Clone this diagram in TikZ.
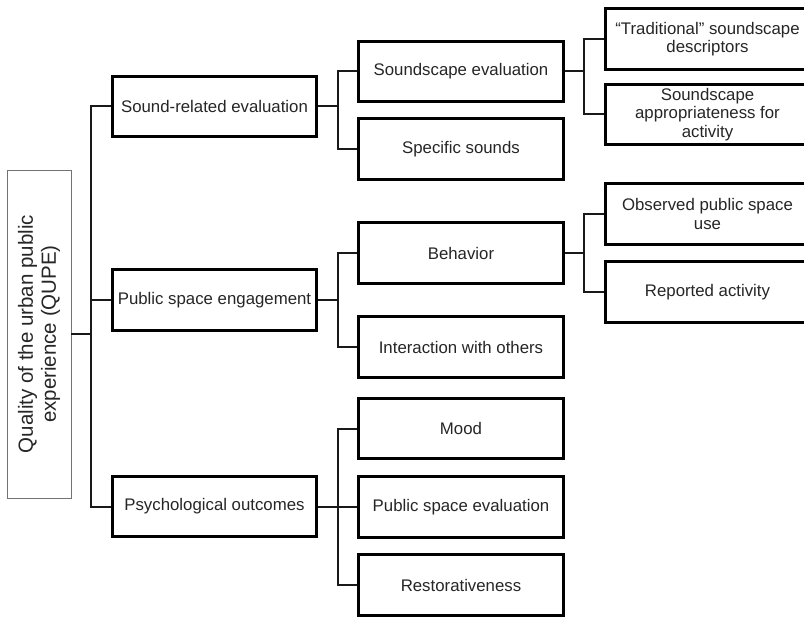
\documentclass[tikz,border=0pt]{standalone}
\usepackage{fontspec}
\setmainfont{Liberation Sans}
\usetikzlibrary{shadows}
\begin{document}
\begin{tikzpicture}[x=1pt,y=-1pt,
  box/.style={draw=black, line width=2.6pt, fill=white, minimum width=204.5pt, minimum height=60.5pt,
    align=center, inner sep=0pt, text=black!85,
    font=\fontsize{16.8}{18.2}\selectfont,
    drop shadow={opacity=0.25, shadow xshift=1.2pt, shadow yshift=-1.2pt}},
  rootbox/.style={draw=black!55, line width=0.7pt, fill=white, rotate=90, minimum width=328pt, minimum height=64pt,
    align=center, inner sep=0pt, text=black!85, font=\fontsize{20.5}{23}\selectfont},
  conn/.style={draw=black!90, line width=2pt}]
\useasboundingbox (0,0) rectangle (804,618);

% root
\node[rootbox] (root) at (39,334) {Quality of the urban public\\experience (QUPE)};

% level 1
\node[box] (sre) at (214.5,106.5) {Sound-related evaluation};
\node[box] (pse) at (214.5,300) {Public space engagement};
\node[box] (pso) at (214.5,506.5) {Psychological outcomes};

% level 2
\node[box] (sev) at (461,71.5) {Soundscape evaluation};
\node[box] (ssn) at (461,149) {Specific sounds};
\node[box] (beh) at (461,253) {Behavior};
\node[box] (iwo) at (461,347) {Interaction with others};
\node[box] (moo) at (461,428.5) {Mood};
\node[box] (pev) at (461,507) {Public space evaluation};
\node[box] (res) at (461,585) {Restorativeness};

% level 3
\node[box] (tsd) at (707.5,39) {“Traditional” soundscape\\descriptors};
\node[box] (sap) at (707.5,114.5) {Soundscape\\appropriateness for\\activity};
\node[box] (ops) at (707.5,214) {Observed public space\\use};
\node[box] (rac) at (707.5,292) {Reported activity};

% connectors
\foreach \c in {sre,pse,pso}
  \draw[conn] (root.south) -- ++(20,0) |- (\c.west);
\foreach \c in {sev,ssn}
  \draw[conn] (sre.east) -- ++(20,0) |- (\c.west);
\foreach \c in {beh,iwo}
  \draw[conn] (pse.east) -- ++(20,0) |- (\c.west);
\foreach \c in {moo,pev,res}
  \draw[conn] (pso.east) -- ++(20,0) |- (\c.west);
\foreach \c in {tsd,sap}
  \draw[conn] (sev.east) -- ++(19,0) |- (\c.west);
\foreach \c in {ops,rac}
  \draw[conn] (beh.east) -- ++(19,0) |- (\c.west);
\end{tikzpicture}
\end{document}
